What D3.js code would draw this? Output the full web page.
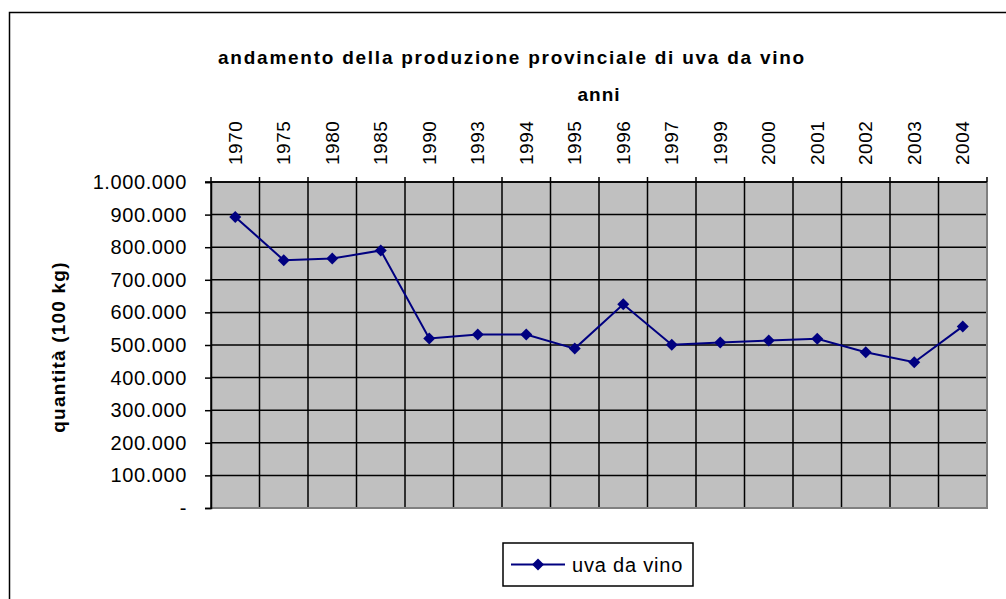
<!DOCTYPE html>
<html lang="it">
<head>
<meta charset="utf-8">
<title>andamento della produzione provinciale di uva da vino</title>
<script src="https://cdn.jsdelivr.net/npm/d3@7"></script>
<style>
  body { margin: 0; background: #fff; }
  svg { font-family: "Liberation Sans", Arial, sans-serif; }
</style>
</head>
<body>
<script>
// anni e produzione (100 kg)
var anni = ["1970", "1975", "1980", "1985", "1990", "1993", "1994", "1995",
            "1996", "1997", "1999", "2000", "2001", "2002", "2003", "2004"];
var quantita = [893000, 760000, 765000, 790000, 520000, 532000, 532000, 489000,
                625000, 501000, 508000, 514000, 519000, 478000, 447000, 557000];
var yTicks = [0, 100000, 200000, 300000, 400000, 500000, 600000, 700000, 800000, 900000, 1000000];
var serie = "uva da vino";

var w = 1006, h = 599;
// margini dell'area del grafico (non usare "top": e' window.top)
var pLeft = 211, pRight = 987, pTop = 182, pBottom = 508;

var svg = d3.select("body").append("svg")
    .attr("width", w)
    .attr("height", h);

// cornice esterna
svg.append("rect")
    .attr("x", 9.5).attr("y", 12.5)
    .attr("width", 1100).attr("height", 700)
    .attr("fill", "none").attr("stroke", "#000").attr("stroke-width", 1.5);

var x = d3.scaleBand().domain(anni).range([pLeft, pRight]);
var y = d3.scaleLinear().domain([0, 1000000]).range([pBottom, pTop]);

var fmt = function(d) {
    if (d === 0) return "-";
    return d3.format(",")(d).replace(/,/g, ".");
};

// area del grafico
svg.append("rect")
    .attr("x", pLeft).attr("y", pTop)
    .attr("width", pRight - pLeft).attr("height", pBottom - pTop)
    .attr("fill", "#c0c0c0");

// griglia orizzontale
svg.append("g").selectAll("line")
    .data(yTicks)
    .enter().append("line")
    .attr("x1", pLeft).attr("x2", pRight)
    .attr("y1", function(d) { return y(d); })
    .attr("y2", function(d) { return y(d); })
    .attr("stroke", "#000").attr("stroke-width", 1.5);

// griglia verticale
svg.append("g").selectAll("line")
    .data(anni)
    .enter().append("line")
    .attr("x1", function(d) { return x(d); })
    .attr("x2", function(d) { return x(d); })
    .attr("y1", pTop).attr("y2", pBottom)
    .attr("stroke", "#000").attr("stroke-width", 1.5);

// bordi grigi destra e sotto
svg.append("path")
    .attr("d", "M" + pRight + "," + pTop + "V" + pBottom + "H" + pLeft)
    .attr("fill", "none").attr("stroke", "#808080").attr("stroke-width", 2);

// asse y
var yAxis = svg.append("g")
    .attr("transform", "translate(" + pLeft + ",0)")
    .call(d3.axisLeft(y).tickValues(yTicks).tickSize(6).tickPadding(18).tickFormat(fmt));
yAxis.select(".domain").attr("stroke", "#000").attr("stroke-width", 1.5);
yAxis.selectAll(".tick line").attr("stroke-width", 1.5);
yAxis.selectAll("text")
    .attr("font-size", 20).attr("fill", "#000")
    .style("letter-spacing", "0.6px");

// asse x in alto
var xAxis = svg.append("g")
    .attr("transform", "translate(0," + pTop + ")")
    .call(d3.axisTop(x).tickSize(0).tickPadding(0));
xAxis.select(".domain").remove();
xAxis.selectAll("text")
    .attr("font-size", 19).attr("fill", "#000")
    .attr("transform", "rotate(-90)")
    .attr("x", 17).attr("y", 0)
    .attr("dy", "0.35em")
    .style("text-anchor", "start")
    .style("letter-spacing", "0.5px");

// tacche in alto ai bordi delle categorie
svg.append("g").selectAll("line")
    .data(anni.concat(["end"]))
    .enter().append("line")
    .attr("x1", function(d) { return d === "end" ? pRight : x(d); })
    .attr("x2", function(d) { return d === "end" ? pRight : x(d); })
    .attr("y1", pTop - 5).attr("y2", pTop)
    .attr("stroke", "#000").attr("stroke-width", 1.5);
svg.append("line")
    .attr("x1", pLeft - 6).attr("x2", pRight)
    .attr("y1", pTop).attr("y2", pTop)
    .attr("stroke", "#000").attr("stroke-width", 1.5);

// linea della serie
var cx = function(d, i) { return x(anni[i]) + x.bandwidth() / 2; };
var line = d3.line()
    .x(cx)
    .y(function(d) { return y(d); });

svg.append("path")
    .datum(quantita)
    .attr("d", line)
    .attr("fill", "none")
    .attr("stroke", "#000080")
    .attr("stroke-width", 2);

var diamond = d3.symbol().type(d3.symbolSquare).size(72);
svg.append("g").selectAll("path")
    .data(quantita)
    .enter().append("path")
    .attr("d", diamond)
    .attr("transform", function(d, i) {
        return "translate(" + cx(d, i) + "," + y(d) + ") rotate(45)";
    })
    .attr("fill", "#000080");

// titoli
svg.append("text")
    .attr("x", 512).attr("y", 64)
    .attr("text-anchor", "middle")
    .attr("font-size", 19).attr("font-weight", "bold")
    .style("letter-spacing", "1.75px")
    .text("andamento della produzione provinciale di uva da vino");

svg.append("text")
    .attr("x", 599).attr("y", 101)
    .attr("text-anchor", "middle")
    .attr("font-size", 19).attr("font-weight", "bold")
    .style("letter-spacing", "1px")
    .text("anni");

svg.append("text")
    .attr("transform", "translate(65,347) rotate(-90)")
    .attr("text-anchor", "middle")
    .attr("font-size", 19).attr("font-weight", "bold")
    .style("letter-spacing", "1.2px")
    .text("quantità (100 kg)");

// legenda
var leg = svg.append("g").attr("transform", "translate(503,543)");
leg.append("rect")
    .attr("width", 190).attr("height", 43)
    .attr("fill", "#fff").attr("stroke", "#000").attr("stroke-width", 1.5);
leg.append("line")
    .attr("x1", 8).attr("x2", 62).attr("y1", 21.5).attr("y2", 21.5)
    .attr("stroke", "#000080").attr("stroke-width", 2);
leg.append("path")
    .attr("d", diamond)
    .attr("transform", "translate(35,21.5) rotate(45)")
    .attr("fill", "#000080");
leg.append("text")
    .attr("x", 69).attr("y", 28.5)
    .attr("font-size", 20)
    .style("letter-spacing", "0.8px")
    .text(serie);
</script>
</body>
</html>
